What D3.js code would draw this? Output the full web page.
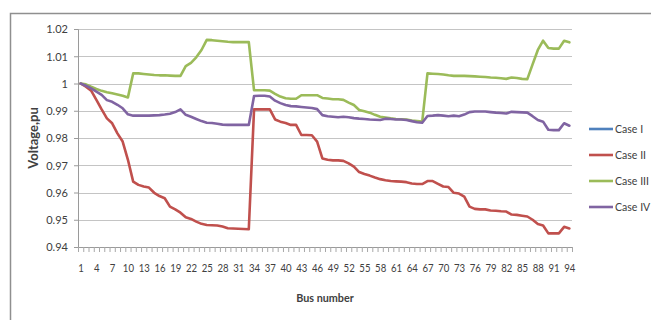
<!DOCTYPE html>
<html>
<head>
<meta charset="utf-8">
<script src="https://cdn.jsdelivr.net/npm/d3@7"></script>
<style>
  body { margin: 0; background: #fff; }
  svg { display: block; }
  text { font-family: Lato, "Open Sans", sans-serif; fill: #404040; }
</style>
</head>
<body>
<svg id="chart" width="651" height="320"></svg>
<script>
// Bus numbers along the feeder
const buses = d3.range(1, 95);

// Labelled buses on the category axis
const xTickLabels = [1, 4, 7, 10, 13, 16, 19, 22, 25, 28, 31, 34, 37, 40, 43, 46, 49, 52, 55, 58, 61, 64, 67, 70, 73, 76, 79, 82, 85, 88, 91, 94];

// Voltage gridline values
const yTicks = [0.94, 0.95, 0.96, 0.97, 0.98, 0.99, 1.00, 1.01, 1.02];

const seriesNames = ["Case I", "Case II", "Case III", "Case IV"];

// Case I: listed in the legend, no profile plotted
const caseI = [];

const caseII = [
  1.0, 0.9988, 0.9974, 0.994, 0.9905, 0.9872, 0.9854, 0.9817, 0.9787, 0.972,
  0.964, 0.9628, 0.9622, 0.9618, 0.9599, 0.9587, 0.9579, 0.9548, 0.9538, 0.9526,
  0.9509, 0.9503, 0.9493, 0.9485, 0.9481, 0.948, 0.9479, 0.9475, 0.9469, 0.9468,
  0.9467, 0.9466, 0.9465,
  0.9905, 0.9905, 0.9905, 0.9905, 0.9868, 0.986, 0.9855, 0.9848, 0.9848, 0.9811,
  0.9811, 0.981, 0.9787,
  0.9725, 0.972, 0.9718, 0.9718, 0.9716, 0.9707, 0.9695, 0.9675, 0.9668, 0.9662,
  0.9655, 0.9649, 0.9645, 0.9642, 0.9641, 0.964, 0.9638, 0.9633, 0.9631, 0.9631,
  0.9642, 0.9642, 0.9632, 0.9622, 0.962, 0.9599, 0.9596, 0.9585, 0.9548, 0.954,
  0.9538, 0.9538, 0.9534, 0.9533, 0.9531, 0.953, 0.9519, 0.9518, 0.9515, 0.9512,
  0.95, 0.9484, 0.9479, 0.945, 0.945, 0.945, 0.9474, 0.9468
];

const caseIII = [
  1.0, 0.9997, 0.9988, 0.998, 0.9973, 0.9968, 0.9964, 0.996, 0.9955, 0.9949,
  1.0037, 1.0037, 1.0035, 1.0033, 1.0031, 1.003, 1.003, 1.0029, 1.0028, 1.0028,
  1.0064, 1.0076, 1.0096, 1.0123, 1.016, 1.0159, 1.0157, 1.0155, 1.0153, 1.0152,
  1.0152, 1.0152, 1.0152,
  0.9975, 0.9975, 0.9975, 0.9974, 0.9962, 0.9952, 0.9946, 0.9944, 0.9944, 0.9957,
  0.9957, 0.9957, 0.9957, 0.9947, 0.9945, 0.9942, 0.9942, 0.994, 0.993, 0.9921,
  0.9903, 0.9898, 0.9893, 0.9885, 0.9878, 0.9875, 0.9872, 0.987, 0.9869, 0.9868,
  0.9864, 0.9862, 0.986,
  1.0037, 1.0036, 1.0035, 1.0033, 1.003, 1.0028, 1.0028, 1.0028, 1.0027, 1.0026,
  1.0025, 1.0024, 1.0022, 1.0021, 1.0019, 1.0017, 1.0022, 1.002, 1.0017, 1.0016,
  1.007, 1.0123, 1.0157, 1.013, 1.0128, 1.0128, 1.0157, 1.0151
];

const caseIV = [
  1.0, 0.9992, 0.9982, 0.997, 0.9958, 0.9939, 0.9933, 0.9922, 0.9909, 0.9887,
  0.9882, 0.9882, 0.9882, 0.9882, 0.9883, 0.9884, 0.9886, 0.9889, 0.9895, 0.9905,
  0.9885, 0.9878, 0.987, 0.9862, 0.9856, 0.9855, 0.9852, 0.9849, 0.9848, 0.9848,
  0.9848, 0.9848, 0.9848,
  0.9954, 0.9955, 0.9955, 0.9952, 0.9937, 0.9928, 0.9921, 0.9917, 0.9916, 0.9914,
  0.9912, 0.991, 0.9906, 0.9884, 0.988, 0.9878, 0.9876, 0.9878, 0.9876, 0.9873,
  0.9871, 0.987, 0.9868, 0.9867, 0.9866, 0.9871, 0.987, 0.9868, 0.9868, 0.9866,
  0.9862, 0.9858, 0.9856,
  0.9881, 0.9882, 0.9884, 0.9882, 0.988, 0.9882, 0.988, 0.9886, 0.9895, 0.9897,
  0.9897, 0.9897, 0.9895, 0.9893, 0.9892, 0.989, 0.9896, 0.9895, 0.9894, 0.9893,
  0.988, 0.9866, 0.986, 0.983, 0.9829, 0.9829, 0.9854, 0.9845
];

const seriesColors = ["#4F81BD", "#C0504D", "#9BBB59", "#8064A2"];
const seriesValues = [caseI, caseII, caseIII, caseIV];

const svg = d3.select("#chart");
const plot = { left: 78, right: 572, top: 29, bottom: 247 };

// Outer chart frame (top and left edges)
svg.append("path")
  .attr("d", `M10.5,320 V13.5 H651`)
  .attr("fill", "none")
  .attr("stroke", "#8f8f8f")
  .attr("stroke-width", 1.5);

// Categories sit between tick marks: bus i is centred in [i-0.5, i+0.5]
const x = d3.scaleLinear()
  .domain([0.5, buses.length + 0.5])
  .range([plot.left, plot.right]);

const y = d3.scaleLinear()
  .domain([d3.min(yTicks), d3.max(yTicks)])
  .range([plot.bottom, plot.top]);

// Horizontal gridlines
svg.append("g")
  .selectAll("line")
  .data(yTicks.filter(v => v > d3.min(yTicks)))
  .join("line")
  .attr("x1", plot.left).attr("x2", plot.right)
  .attr("y1", d => Math.round(y(d)) + 0.5)
  .attr("y2", d => Math.round(y(d)) + 0.5)
  .attr("stroke", "#c4c4c4")
  .attr("stroke-width", 1);

// Y axis
const yAxis = svg.append("g")
  .attr("transform", `translate(${plot.left},0)`)
  .call(d3.axisLeft(y)
    .tickValues(yTicks)
    .tickSize(4)
    .tickPadding(6)
    .tickFormat(d => String(+d.toFixed(2))));
yAxis.select(".domain").attr("stroke", "#9a9a9a");
yAxis.selectAll(".tick line").attr("stroke", "#9a9a9a");
const ySx = 0.92;
yAxis.selectAll(".tick text")
  .attr("font-size", 12)
  .attr("fill", "#404040")
  .attr("x", -10 / ySx)
  .attr("transform", `scale(${ySx},1)`);

// X axis: tick marks at category boundaries
const xAxisTicks = svg.append("g")
  .attr("transform", `translate(0,${plot.bottom})`)
  .call(d3.axisBottom(x)
    .tickValues(d3.range(0.5, buses.length + 1, 1))
    .tickSize(5)
    .tickFormat(""));
xAxisTicks.select(".domain").attr("stroke", "#9a9a9a");
xAxisTicks.selectAll(".tick line").attr("stroke", "#a8a8a8");

// X axis labels every third bus
const xSx = 0.8;
const xAxisLabels = svg.append("g")
  .attr("transform", `translate(0,${plot.bottom})`)
  .call(d3.axisBottom(x)
    .tickValues(xTickLabels)
    .tickSize(0)
    .tickPadding(16)
    .tickFormat(d3.format("d")));
xAxisLabels.select(".domain").remove();
xAxisLabels.selectAll(".tick text")
  .attr("font-size", 12)
  .attr("fill", "#404040")
  .attr("transform", `scale(${xSx},1)`);

// Axis titles
svg.append("text")
  .attr("x", 325).attr("y", 302)
  .attr("text-anchor", "middle")
  .attr("font-size", 12)
  .attr("font-weight", "bold")
  .attr("fill", "#262626")
  .attr("transform", "translate(325,0) scale(0.9,1) translate(-325,0)")
  .text("Bus number");

svg.append("text")
  .attr("transform", `translate(38,${(plot.top + plot.bottom) / 2}) rotate(-90)`)
  .attr("text-anchor", "middle")
  .attr("font-size", 13)
  .attr("font-weight", "bold")
  .attr("fill", "#262626")
  .text("Voltage,pu");

// Voltage profiles
const line = d3.line()
  .x((d, i) => x(buses[i]))
  .y(d => y(d));

svg.append("g")
  .selectAll("path")
  .data(seriesValues.map((vals, k) => ({ vals, color: seriesColors[k] })))
  .join("path")
  .attr("d", d => d.vals.length ? line(d.vals) : null)
  .attr("fill", "none")
  .attr("stroke", d => d.color)
  .attr("stroke-width", 2.6)
  .attr("stroke-linejoin", "round")
  .attr("stroke-linecap", "round");

// Legend
const legend = svg.append("g");
const legendY = d3.scalePoint()
  .domain(seriesNames)
  .range([129, 207]);
const entry = legend.selectAll("g")
  .data(seriesNames)
  .join("g")
  .attr("transform", d => `translate(589,${legendY(d)})`);
entry.append("line")
  .attr("x1", 0).attr("x2", 24)
  .attr("stroke", (d, i) => seriesColors[i])
  .attr("stroke-width", 2.6);
entry.append("text")
  .attr("x", 26 / 0.88)
  .attr("dy", "0.35em")
  .attr("font-size", 12)
  .attr("fill", "#404040")
  .attr("transform", "scale(0.88,1)")
  .text(d => d);
</script>
</body>
</html>
